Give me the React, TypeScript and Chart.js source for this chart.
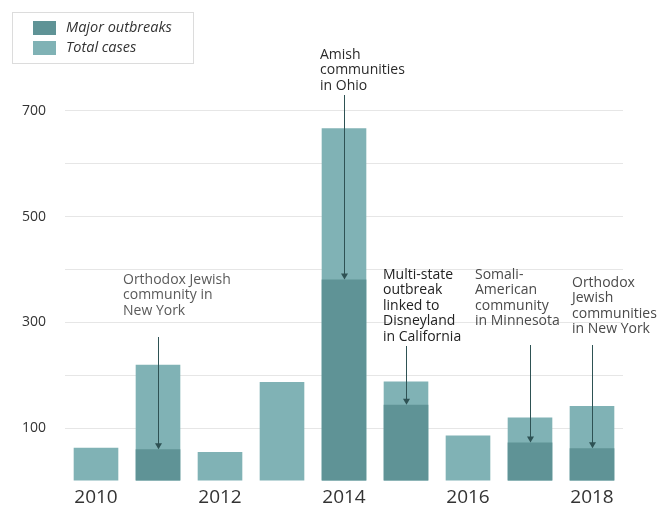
import { useEffect, useRef } from "react";
import { Chart, registerables } from "chart.js";

Chart.register(...registerables);

const years = ["2010", "2011", "2012", "2013", "2014", "2015", "2016", "2017", "2018"];
const totalCases = [63, 220, 55, 187, 667, 188, 86, 120, 142];
const majorOutbreaks = [null, 60, null, null, 381, 144, null, 73, 62];
const yTickLabels = [100, 300, 500, 700];
const xTickLabels = ["2010", "2012", "2014", "2016", "2018"];

const annotationYears = ["2011", "2014", "2015", "2017", "2018"];
const annotationTexts = [
  ["Orthodox Jewish", "community in", "New York"],
  ["Amish", "communities", "in Ohio"],
  ["Multi-state", "outbreak", "linked to", "Disneyland", "in California"],
  ["Somali-", "American", "community", "in Minnesota"],
  ["Orthodox", "Jewish", "communities", "in New York"],
];

// layout for annotations (pixel offsets relative to the bar centre / canvas top)
const annotationLayout = [
  { dx: -35, textTop: 280, lineTop: 337, color: "#5a5a5a" },
  { dx: -24, textTop: 55, lineTop: 95, color: "#2a2a2a" },
  { dx: -23, textTop: 275, lineTop: 346, color: "#222" },
  { dx: -55, textTop: 275, lineTop: 345, color: "#4a4a4a" },
  { dx: -20, textTop: 283, lineTop: 345, color: "#4a4a4a" },
];

const TOTAL_COLOR = "#80b2b5";
const MAJOR_COLOR = "#5f9396";
const FONT = "'Open Sans', sans-serif";

const overlayPlugin = {
  id: "overlay",
  afterDatasetsDraw(chart: any) {
    const ctx = chart.ctx;
    const xs = chart.scales.x;
    const ys = chart.scales.y;
    ctx.save();
    // annotations
    annotationYears.forEach((yr, i) => {
      const idx = years.indexOf(yr);
      const cx = xs.getPixelForValue(idx);
      const lay = annotationLayout[i];
      ctx.fillStyle = lay.color;
      ctx.font = `14px ${FONT}`;
      ctx.textAlign = "left";
      ctx.textBaseline = "middle";
      annotationTexts[i].forEach((t, j) => {
        ctx.fillText(t, cx + lay.dx, lay.textTop + j * 15.4);
      });
      const endY = ys.getPixelForValue(majorOutbreaks[idx] as number);
      ctx.strokeStyle = "#2e5254";
      ctx.lineWidth = 1;
      ctx.beginPath();
      ctx.moveTo(cx + 0.5, lay.lineTop);
      ctx.lineTo(cx + 0.5, endY - 1);
      ctx.stroke();
      ctx.fillStyle = "#2e5254";
      ctx.beginPath();
      ctx.moveTo(cx - 3, endY - 6);
      ctx.lineTo(cx + 4, endY - 6);
      ctx.lineTo(cx + 0.5, endY);
      ctx.closePath();
      ctx.fill();
    });
    // legend
    ctx.strokeStyle = "#dcdcdc";
    ctx.lineWidth = 1;
    ctx.strokeRect(12.5, 12.5, 181, 51);
    const items = [
      { label: chart.data.datasets[0].label, color: MAJOR_COLOR, y: 28 },
      { label: chart.data.datasets[1].label, color: TOTAL_COLOR, y: 48 },
    ];
    items.forEach((it) => {
      ctx.fillStyle = it.color;
      ctx.fillRect(33, it.y - 7, 23, 14);
      ctx.fillStyle = "#333";
      ctx.font = `italic 14.5px ${FONT}`;
      ctx.textAlign = "left";
      ctx.textBaseline = "middle";
      ctx.fillText(it.label, 66, it.y);
    });
    ctx.restore();
  },
};

export default function App() {
  const ref = useRef<HTMLCanvasElement>(null);
  useEffect(() => {
    document.body.style.margin = "0";
    const chart = new Chart(ref.current as HTMLCanvasElement, {
      type: "bar",
      data: {
        labels: years,
        datasets: [
          {
            label: "Major outbreaks",
            data: majorOutbreaks as any,
            backgroundColor: MAJOR_COLOR,
            grouped: false,
            barPercentage: 0.72,
            categoryPercentage: 1,
          } as any,
          {
            label: "Total cases",
            data: totalCases,
            backgroundColor: TOTAL_COLOR,
            grouped: false,
            barPercentage: 0.72,
            categoryPercentage: 1,
          } as any,
        ],
      },
      options: {
        animation: false,
        responsive: false,
        devicePixelRatio: 1,
        layout: { padding: { top: 58, right: 36, bottom: 0, left: 0 } },
        plugins: { legend: { display: false }, tooltip: { enabled: false } },
        scales: {
          x: {
            grid: { display: false, drawTicks: false },
            border: { display: false },
            afterFit: (s: any) => {
              s.height = 28;
            },
            ticks: {
              padding: 5,
              autoSkip: false,
              maxRotation: 0,
              color: "#333",
              font: { family: FONT, size: 19 },
              callback: (_v: any, i: number) => (xTickLabels.includes(years[i]) ? years[i] : ""),
            },
          },
          y: {
            min: 0,
            max: 800,
            border: { display: false },
            afterFit: (s: any) => {
              s.width = 65;
            },
            grid: {
              drawTicks: false,
              color: (c: any) => (c.tick && c.tick.value > 0 && c.tick.value < 800 ? "#e6e6e6" : "rgba(0,0,0,0)"),
            },
            ticks: {
              stepSize: 100,
              padding: 19,
              color: "#333",
              font: { family: FONT, size: 14 },
              callback: (v: any) => (yTickLabels.includes(Number(v)) ? String(v) : ""),
            },
          },
        },
      },
      plugins: [overlayPlugin],
    });
    return () => chart.destroy();
  }, []);
  return (
    <div style={{ width: 659, height: 509 }}>
      <canvas ref={ref} width={659} height={509} />
    </div>
  );
}
